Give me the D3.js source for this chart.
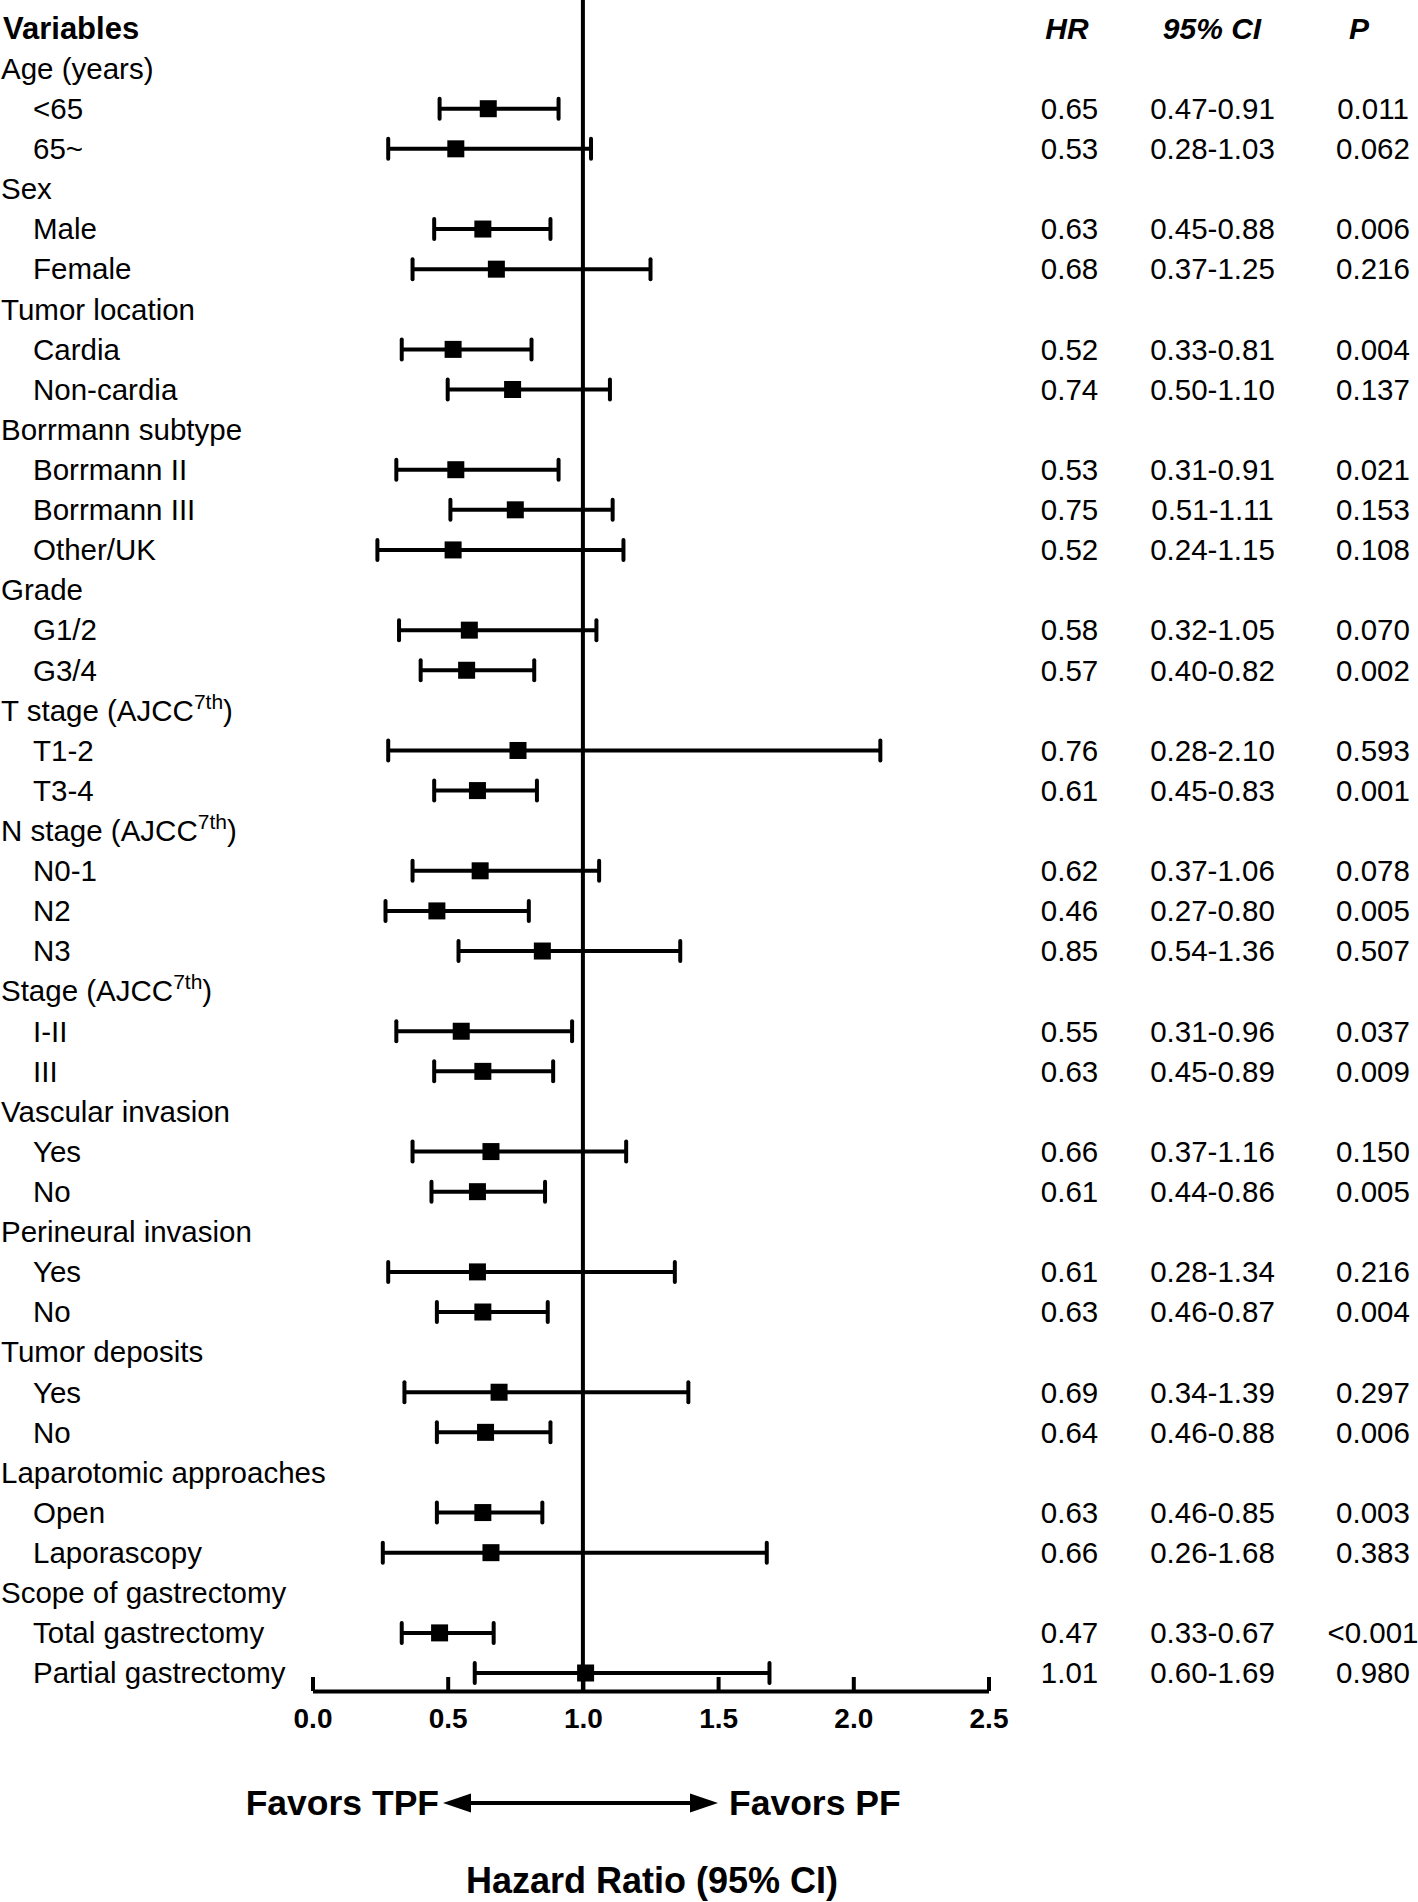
<!DOCTYPE html>
<html>
<head>
<meta charset="utf-8">
<script src="https://cdn.jsdelivr.net/npm/d3@7"></script>
<style>
  html, body { margin: 0; padding: 0; background: #fff; }
  svg { display: block; font-family: "Liberation Sans", Arial, Helvetica, sans-serif; }
</style>
</head>
<body>
<svg id="chart" width="1418" height="1902"></svg>
<script>
// ---------- data ----------
// label text ("^...^" marks superscript), level: 0 = group header, 1 = subgroup
const labels = [
  "Age (years)", "<65", "65~",
  "Sex", "Male", "Female",
  "Tumor location", "Cardia", "Non-cardia",
  "Borrmann subtype", "Borrmann II", "Borrmann III", "Other/UK",
  "Grade", "G1/2", "G3/4",
  "T stage (AJCC^7th^)", "T1-2", "T3-4",
  "N stage (AJCC^7th^)", "N0-1", "N2", "N3",
  "Stage (AJCC^7th^)", "I-II", "III",
  "Vascular invasion", "Yes", "No",
  "Perineural invasion", "Yes", "No",
  "Tumor deposits", "Yes", "No",
  "Laparotomic approaches", "Open", "Laporascopy",
  "Scope of gastrectomy", "Total gastrectomy", "Partial gastrectomy"
];
const levels = [
  0,1,1, 0,1,1, 0,1,1, 0,1,1,1, 0,1,1, 0,1,1, 0,1,1,1, 0,1,1, 0,1,1, 0,1,1, 0,1,1, 0,1,1, 0,1,1
];
const hr = [
  null,0.65,0.53, null,0.63,0.68, null,0.52,0.74, null,0.53,0.75,0.52, null,0.58,0.57,
  null,0.76,0.61, null,0.62,0.46,0.85, null,0.55,0.63, null,0.66,0.61, null,0.61,0.63,
  null,0.69,0.64, null,0.63,0.66, null,0.47,1.01
];
const ciLow = [
  null,0.47,0.28, null,0.45,0.37, null,0.33,0.50, null,0.31,0.51,0.24, null,0.32,0.40,
  null,0.28,0.45, null,0.37,0.27,0.54, null,0.31,0.45, null,0.37,0.44, null,0.28,0.46,
  null,0.34,0.46, null,0.46,0.26, null,0.33,0.60
];
const ciHigh = [
  null,0.91,1.03, null,0.88,1.25, null,0.81,1.10, null,0.91,1.11,1.15, null,1.05,0.82,
  null,2.10,0.83, null,1.06,0.80,1.36, null,0.96,0.89, null,1.16,0.86, null,1.34,0.87,
  null,1.39,0.88, null,0.85,1.68, null,0.67,1.69
];
const pValues = [
  null,"0.011","0.062", null,"0.006","0.216", null,"0.004","0.137", null,"0.021","0.153","0.108",
  null,"0.070","0.002", null,"0.593","0.001", null,"0.078","0.005","0.507", null,"0.037","0.009",
  null,"0.150","0.005", null,"0.216","0.004", null,"0.297","0.006", null,"0.003","0.383",
  null,"<0.001","0.980"
];
const xTicks = [0, 0.5, 1.0, 1.5, 2.0, 2.5];
const columnHeaders = ["Variables", "HR", "95% CI", "P"];
const favorLeft = "Favors TPF";
const favorRight = "Favors PF";
const axisTitle = "Hazard Ratio (95% CI)";

// ---------- layout ----------
const svg = d3.select("#chart");
const nRows = labels.length;           // rows 1..nRows, row 0 = header
const x = d3.scaleLinear().domain([0, 2.5]).range([312.5, 988.5]);
const y = d3.scaleLinear().domain([0, nRows]).range([28.5, 1673]);
const axisY = 1691;
const fmt2 = d3.format(".2f");
const SW = 4;

const rows = labels.map((l, i) => ({
  label: l, level: levels[i], hr: hr[i], lo: ciLow[i], hi: ciHigh[i], p: pValues[i], row: i + 1
}));

// reference line at HR = 1
svg.append("line")
  .attr("x1", x(1)).attr("x2", x(1))
  .attr("y1", 0).attr("y2", axisY)
  .attr("stroke", "#000").attr("stroke-width", SW);

// headers
const hdr = svg.append("g").attr("font-weight", "bold").attr("font-size", 30).attr("fill", "#000");
hdr.append("text").attr("x", 3).attr("y", y(0)).attr("dy", "0.35em").attr("font-size", 31).text(columnHeaders[0]);
hdr.append("text").attr("x", 1067).attr("y", y(0)).attr("dy", "0.35em").attr("text-anchor", "middle").attr("font-style", "italic").text(columnHeaders[1]);
hdr.append("text").attr("x", 1212).attr("y", y(0)).attr("dy", "0.35em").attr("text-anchor", "middle").attr("font-style", "italic").text(columnHeaders[2]);
hdr.append("text").attr("x", 1359).attr("y", y(0)).attr("dy", "0.35em").attr("text-anchor", "middle").attr("font-style", "italic").text(columnHeaders[3]);

// row labels
const lab = svg.append("g").attr("font-size", 29.5).attr("fill", "#000");
rows.forEach(r => {
  const t = lab.append("text")
    .attr("x", r.level === 0 ? 1 : 33)
    .attr("y", y(r.row)).attr("dy", "0.35em");
  const parts = r.label.split("^");
  parts.forEach((p, k) => {
    if (p === "") return;
    if (k % 2 === 1) {
      t.append("tspan").attr("dy", -12).attr("font-size", 21).text(p);
    } else if (k > 0) {
      t.append("tspan").attr("dy", 12).text(p);
    } else {
      t.append("tspan").text(p);
    }
  });
});

// error bars
const data = rows.filter(r => r.hr !== null);
const cap = 10;
const g = svg.append("g").attr("stroke", "#000").attr("stroke-width", SW);
g.selectAll("line.ci").data(data).join("line").attr("class", "ci")
  .attr("x1", d => x(d.lo)).attr("x2", d => x(d.hi))
  .attr("y1", d => y(d.row)).attr("y2", d => y(d.row));
g.selectAll("line.capL").data(data).join("line").attr("class", "capL")
  .attr("stroke-linecap", "round")
  .attr("x1", d => x(d.lo)).attr("x2", d => x(d.lo))
  .attr("y1", d => y(d.row) - cap).attr("y2", d => y(d.row) + cap);
g.selectAll("line.capR").data(data).join("line").attr("class", "capR")
  .attr("stroke-linecap", "round")
  .attr("x1", d => x(d.hi)).attr("x2", d => x(d.hi))
  .attr("y1", d => y(d.row) - cap).attr("y2", d => y(d.row) + cap);
const sq = 17;
svg.append("g").selectAll("rect").data(data).join("rect")
  .attr("x", d => x(d.hr) - sq / 2).attr("y", d => y(d.row) - sq / 2)
  .attr("width", sq).attr("height", sq).attr("fill", "#000");

// table columns
const tab = svg.append("g").attr("font-size", 29.5).attr("fill", "#000").attr("text-anchor", "middle");
tab.selectAll("text.hr").data(data).join("text").attr("class", "hr")
  .attr("x", 1069.5).attr("y", d => y(d.row)).attr("dy", "0.35em").text(d => fmt2(d.hr));
tab.selectAll("text.ci").data(data).join("text").attr("class", "ci")
  .attr("x", 1212.5).attr("y", d => y(d.row)).attr("dy", "0.35em").text(d => fmt2(d.lo) + "-" + fmt2(d.hi));
tab.selectAll("text.p").data(data).join("text").attr("class", "p")
  .attr("x", 1373).attr("y", d => y(d.row)).attr("dy", "0.35em").text(d => d.p);

// x axis
const axis = d3.axisBottom(x).tickValues(xTicks).tickFormat(d3.format(".1f"))
  .tickSizeInner(-14).tickSizeOuter(0).tickPadding(17);
const ax = svg.append("g").attr("transform", `translate(0,${axisY})`).call(axis);
ax.select(".domain").attr("stroke", "#000").attr("stroke-width", SW);
ax.selectAll(".tick line").attr("stroke", "#000").attr("stroke-width", SW);
ax.selectAll(".tick text").attr("fill", "#000").attr("font-size", 28).attr("font-weight", "bold")
  .attr("font-family", "'Liberation Sans', Arial, sans-serif");

// favors arrow
const arrowY = 1803, aL = 443, aR = 718, head = 28, hh = 9.5;
svg.append("line").attr("x1", aL + 10).attr("x2", aR - 10).attr("y1", arrowY).attr("y2", arrowY)
  .attr("stroke", "#000").attr("stroke-width", SW);
svg.append("path").attr("d", `M${aL},${arrowY}L${aL + head},${arrowY - hh}L${aL + head},${arrowY + hh}Z`).attr("fill", "#000");
svg.append("path").attr("d", `M${aR},${arrowY}L${aR - head},${arrowY - hh}L${aR - head},${arrowY + hh}Z`).attr("fill", "#000");
const fav = svg.append("g").attr("font-size", 35.5).attr("font-weight", "bold").attr("fill", "#000");
fav.append("text").attr("x", 439).attr("y", arrowY).attr("dy", "0.35em").attr("text-anchor", "end").text(favorLeft);
fav.append("text").attr("x", 729).attr("y", arrowY).attr("dy", "0.35em").text(favorRight);

svg.append("text").attr("x", 652).attr("y", 1880).attr("dy", "0.35em").attr("text-anchor", "middle")
  .attr("font-size", 36).attr("font-weight", "bold").attr("fill", "#000").text(axisTitle);
</script>
</body>
</html>
